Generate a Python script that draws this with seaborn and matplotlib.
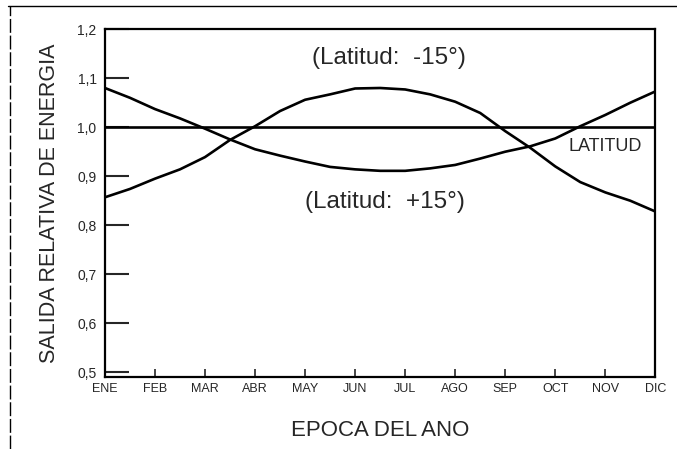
import matplotlib
matplotlib.use("Agg")
import matplotlib.pyplot as plt
from matplotlib.lines import Line2D
import numpy as np
import pandas as pd
import seaborn as sns

# datos (medio mes entre puntos)
meses = ["ENE", "FEB", "MAR", "ABR", "MAY", "JUN", "JUL", "AGO", "SEP", "OCT", "NOV", "DIC"]
t = [0, 0.5, 1, 1.5, 2, 2.5, 3, 3.5, 4, 4.5, 5, 5.5,
     6, 6.5, 7, 7.5, 8, 8.5, 9, 9.5, 10, 10.5, 11]
lat_mas15 = [1.080, 1.060, 1.037, 1.018, 0.997, 0.975, 0.955, 0.942, 0.930, 0.919, 0.914, 0.911,
             0.911, 0.916, 0.923, 0.936, 0.950, 0.961, 0.977, 1.002, 1.025, 1.050, 1.073]
lat_menos15 = [0.857, 0.874, 0.895, 0.914, 0.939, 0.974, 1.002, 1.033, 1.056, 1.067, 1.079, 1.080,
               1.077, 1.067, 1.052, 1.029, 0.992, 0.958, 0.920, 0.888, 0.867, 0.850, 0.828]
nivel_ecuador = 1.0
yticks = [0.5, 0.6, 0.7, 0.8, 0.9, 1.0, 1.1, 1.2]
ytick_labels = ["0,5", "0,6", "0,7", "0,8", "0,9", "1,0", "1,1", "1,2"]

data = pd.DataFrame({"t": t, "mas15": lat_mas15, "menos15": lat_menos15})

sns.set_style("ticks")
plt.rcParams['font.family'] = ['Liberation Sans', 'DejaVu Sans']

fig = plt.figure(figsize=(6.77, 4.49), dpi=100)
ax = fig.add_axes([0.155, 0.160, 0.813, 0.775])

sns.lineplot(data=data, x="t", y="mas15", color="black", linewidth=1.9, ax=ax,
             solid_joinstyle="round")
sns.lineplot(data=data, x="t", y="menos15", color="black", linewidth=1.9, ax=ax,
             solid_joinstyle="round")
ax.axhline(nivel_ecuador, color="black", linewidth=1.9)

ax.set_xlim(0, 11)
ax.set_ylim(0.49, 1.2)
ax.set_xticks(range(len(meses)))
ax.set_xticklabels(meses, fontsize=9, family=['Liberation Sans Narrow', 'Liberation Sans'])
ax.set_yticks(yticks)
ax.set_yticklabels(ytick_labels, fontsize=10)

ax.tick_params(axis="y", direction="in", length=17, width=1.5, pad=6)
ax.tick_params(axis="x", direction="in", length=6, width=1.2, pad=4)
for s in ax.spines.values():
    s.set_linewidth(1.6)
    s.set_color("black")

ax.set_xlabel("EPOCA DEL ANO", fontsize=16)
ax.set_ylabel("SALIDA RELATIVA DE ENERGIA", fontsize=15.5)
ax.xaxis.set_label_coords(0.5, -0.124)
ax.yaxis.set_label_coords(-0.082, 0.5)

ax.text(5.68, 1.141, "(Latitud:  -15°)", fontsize=17.5, ha="center", va="center")
ax.text(5.6, 0.847, "(Latitud:  +15°)", fontsize=17.5, ha="center", va="center")
ax.text(10.0, 0.96, "LATITUD", fontsize=13, ha="center", va="center")

# marco del escaneo
fig.add_artist(Line2D([0.012, 1.0], [0.987, 0.987], color="black", linewidth=1.0))
fig.add_artist(Line2D([0.015, 0.015], [0.0, 0.987], color="black", linewidth=1.0,
                      linestyle=(0, (10, 2))))

fig.savefig("out.png", dpi=100)
